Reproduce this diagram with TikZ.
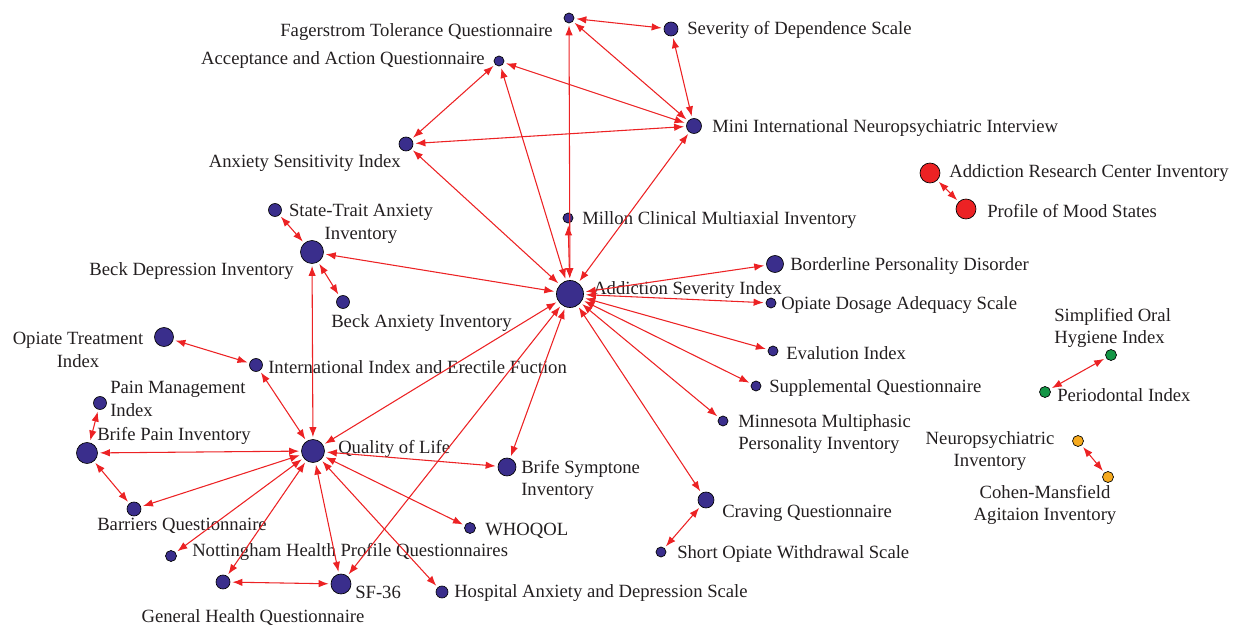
\documentclass[tikz,border=0pt]{standalone}
\usepackage{fontspec}
\setmainfont{Liberation Serif}
\usetikzlibrary{arrows.meta}
\definecolor{nblue}{RGB}{58,46,140}
\definecolor{ared}{RGB}{236,34,36}
\definecolor{ngreen}{RGB}{20,150,70}
\definecolor{norange}{RGB}{246,170,30}
\definecolor{txt}{RGB}{35,31,32}
\tikzset{
  nd/.style={circle,draw=black,line width=0.5pt,fill=nblue,inner sep=0pt,minimum size={#1*0.75pt},outer sep=1.8pt},
  ndred/.style={nd=#1,fill=ared},
  ndgreen/.style={nd=#1,fill=ngreen},
  ndorange/.style={nd=#1,fill=norange},
  lbl/.style={inner sep=0pt,font=\fontsize{14}{17}\selectfont,text=txt,yshift=-1.5pt},
  ar/.style={draw=ared,line width=0.8pt,{Latex[length=7.5pt,width=5.6pt]}-{Latex[length=7.5pt,width=5.6pt]}},
}
\begin{document}
\begin{tikzpicture}[x=0.75pt,y=-0.75pt]
\path[use as bounding box] (0,0) rectangle (1240,627);
% nodes
\node[nd=10] (ftq) at (569,18) {};
\node[nd=14] (sds) at (671,29) {};
\node[nd=10] (aaq) at (499,61) {};
\node[nd=15] (mini) at (694,126) {};
\node[nd=14] (asx) at (406,144) {};
\node[ndred=20] (arci) at (930,173) {};
\node[ndred=20] (poms) at (966,209) {};
\node[nd=13] (stai) at (275,210) {};
\node[nd=23] (bdi) at (312,252) {};
\node[nd=10] (mcmi) at (568,218) {};
\node[nd=27] (asi) at (570,294) {};
\node[nd=17] (bpd) at (775,264) {};
\node[nd=10] (odas) at (771,303) {};
\node[nd=13] (bai) at (343,302) {};
\node[nd=19] (oti) at (164,337) {};
\node[nd=13] (iief) at (256,365) {};
\node[nd=10] (ei) at (773,351) {};
\node[nd=10] (sq) at (756,386) {};
\node[ndgreen=11] (sohi) at (1111,355) {};
\node[ndgreen=11] (pi) at (1045,392) {};
\node[nd=13] (pmi) at (100,403) {};
\node[nd=10] (mmpi) at (723,421) {};
\node[ndorange=11] (npi) at (1078,441) {};
\node[ndorange=11] (cmai) at (1108,477) {};
\node[nd=21] (bpi) at (87,453) {};
\node[nd=23] (qol) at (313,451) {};
\node[nd=18] (bsi) at (507,467) {};
\node[nd=14] (bq) at (134,509) {};
\node[nd=11] (who) at (470,528) {};
\node[nd=16] (cq) at (706,500) {};
\node[nd=11] (nhp) at (171,556) {};
\node[nd=10] (sows) at (661,552) {};
\node[nd=14] (ghq) at (223,582) {};
\node[nd=20] (sf) at (341,584) {};
\node[nd=12] (hads) at (442,592) {};
% labels
\node[lbl,anchor=east] (tftq) at (553,30) {Fagerstrom Tolerance Questionnaire};
\node[lbl,anchor=west] (tsds) at (687,28) {Severity of Dependence Scale};
\node[lbl,anchor=east] (taaq) at (485,58) {Acceptance and Action Questionnaire};
\node[lbl,anchor=west] (tmini) at (712,126) {Mini International Neuropsychiatric Interview};
\node[lbl,anchor=east] (tasx) at (401,161) {Anxiety Sensitivity Index};
\node[lbl,anchor=west] (tarci) at (949,171) {Addiction Research Center Inventory};
\node[lbl,anchor=west] (tpoms) at (987,209) {Profile of Mood States};
\node[lbl,align=center] (tstai) at (361,222) {State-Trait Anxiety\\Inventory};
\node[lbl,anchor=west] (tmcmi) at (582,218) {Millon Clinical Multiaxial Inventory};
\node[lbl,anchor=east] (tbdi) at (294,269) {Beck Depression Inventory};
\node[lbl,anchor=west] (tasi) at (593,288) {Addiction Severity Index};
\node[lbl,anchor=west] (tbpd) at (790,264) {Borderline Personality Disorder};
\node[lbl,anchor=west] (todas) at (781,303) {Opiate Dosage Adequacy Scale};
\node[lbl,anchor=west] (tbai) at (331,321) {Beck Anxiety Inventory};
\node[lbl,align=center] (toti) at (78,348) {Opiate Treatment\\Index};
\node[lbl,anchor=west] (tiief) at (268,365) {International Index and Erectile Fuction};
\node[lbl,anchor=west] (tei) at (786,351) {Evalution Index};
\node[lbl,anchor=west] (tsq) at (769,386) {Supplemental Questionnaire};
\node[lbl,anchor=west,align=left] (tsohi) at (1054,326) {Simplified Oral\\Hygiene Index};
\node[lbl,anchor=west] (tpi) at (1057,393) {Periodontal Index};
\node[lbl,anchor=west,align=left] (tpmi) at (110,397) {Pain Management\\Index};
\node[lbl,anchor=west,align=left] (tmmpi) at (738,432) {Minnesota Multiphasic\\Personality Inventory};
\node[lbl,align=center] (tnpi) at (990,449) {Neuropsychiatric\\Inventory};
\node[lbl,align=center] (tcmai) at (1045,503) {Cohen-Mansfield\\Agitaion Inventory};
\node[lbl,anchor=west] (tbpi) at (97,434) {Brife Pain Inventory};
\node[lbl,anchor=west] (tqol) at (338,447) {Quality of Life};
\node[lbl,anchor=west,align=left] (tbsi) at (521,478) {Brife Symptone\\Inventory};
\node[lbl,anchor=west] (tbq) at (97,524) {Barriers Questionnaire};
\node[lbl,anchor=west] (twho) at (485,529) {WHOQOL};
\node[lbl,anchor=west] (tcq) at (722,511) {Craving Questionnaire};
\node[lbl,anchor=west] (tnhp) at (192,550) {Nottingham Health Profile Questionnaires};
\node[lbl,anchor=west] (tsows) at (677,552) {Short Opiate Withdrawal Scale};
\node[lbl,anchor=west] (tsf) at (355,590) {SF-36};
\node[lbl,anchor=west] (thads) at (454,591) {Hospital Anxiety and Depression Scale};
\node[lbl] (tghq) at (253,616) {General Health Questionnaire};
% edges
\draw[ar] (ftq) -- (sds);
\draw[ar] (ftq) -- (mini);
\draw[ar] (ftq) -- (asi);
\draw[ar] (sds) -- (mini);
\draw[ar] (aaq) -- (mini);
\draw[ar] (aaq) -- (asx);
\draw[ar] (aaq) -- (asi);
\draw[ar] (mini) -- (asx);
\draw[ar] (mini) -- (asi);
\draw[ar] (asx) -- (asi);
\draw[ar] (mcmi) -- (asi);
\draw[ar] (arci) -- (poms);
\draw[ar] (stai) -- (bdi);
\draw[ar] (bdi) -- (bai);
\draw[ar] (bdi) -- (asi);
\draw[ar] (bdi) -- (qol);
\draw[ar] (asi) -- (bpd);
\draw[ar] (asi) -- (odas);
\draw[ar] (asi) -- (ei);
\draw[ar] (asi) -- (sq);
\draw[ar] (asi) -- (mmpi);
\draw[ar] (asi) -- (cq);
\draw[ar] (asi) -- (bsi);
\draw[ar] (asi) -- (qol);
\draw[ar] (asi) -- (sf);
\draw[ar] (oti) -- (iief);
\draw[ar] (iief) -- (qol);
\draw[ar] (pmi) -- (bpi);
\draw[ar] (bpi) -- (qol);
\draw[ar] (bpi) -- (bq);
\draw[ar] (bq) -- (qol);
\draw[ar] (nhp) -- (qol);
\draw[ar] (ghq) -- (qol);
\draw[ar] (ghq) -- (sf);
\draw[ar] (sf) -- (qol);
\draw[ar] (qol) -- (bsi);
\draw[ar] (qol) -- (who);
\draw[ar] (qol) -- (hads);
\draw[ar] (cq) -- (sows);
\draw[ar] (sohi) -- (pi);
\draw[ar] (npi) -- (cmai);
\end{tikzpicture}
\end{document}
